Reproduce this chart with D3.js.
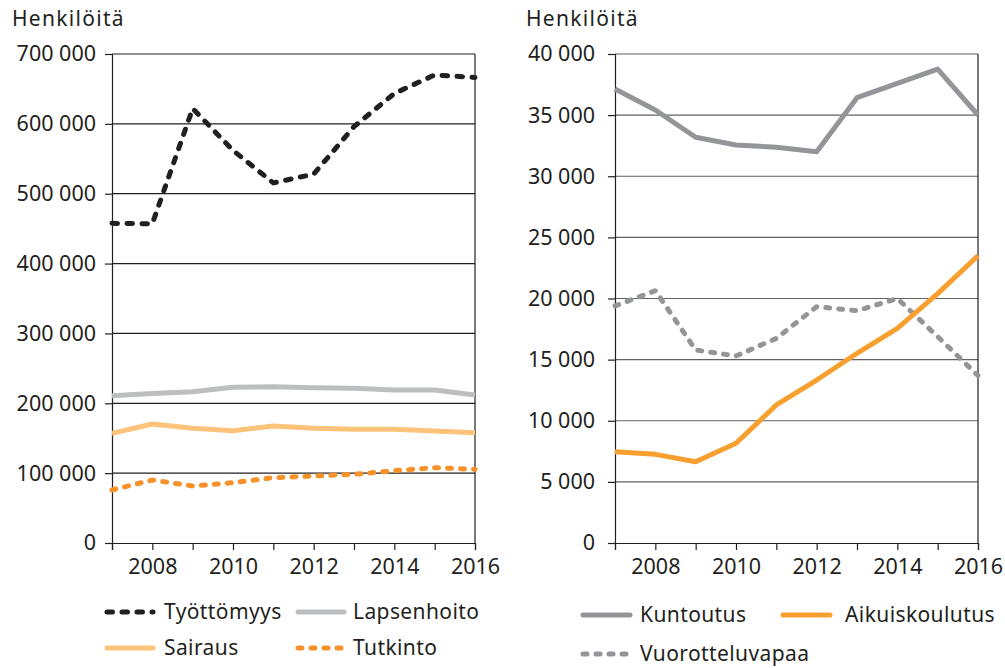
<!DOCTYPE html>
<html>
<head>
<meta charset="utf-8">
<script src="https://cdn.jsdelivr.net/npm/d3@7"></script>
<style>
  body { margin: 0; background: #fff; }
  svg text { font-family: "Noto Sans", sans-serif; fill: #231f20; }
</style>
</head>
<body>
<div id="chart"></div>
<script>
// years on the x axis (both panels)
const years = [2007, 2008, 2009, 2010, 2011, 2012, 2013, 2014, 2015, 2016];
const yearLabels = [2008, 2010, 2012, 2014, 2016];

// left panel
const tyottomyys = [457600, 457000, 622000, 562000, 515500, 528000, 596000, 643500, 670000, 666500];
const lapsenhoito = [210700, 214000, 216600, 222900, 223800, 222300, 221400, 219000, 219000, 211800];
const sairaus = [157000, 170300, 164200, 160800, 167500, 164200, 162700, 162700, 160300, 157900];
const tutkinto = [75900, 90200, 81600, 86300, 93500, 95900, 98300, 103500, 107800, 105500];
const leftTicks = [0, 100000, 200000, 300000, 400000, 500000, 600000, 700000];

// right panel
const kuntoutus = [37140, 35420, 33190, 32560, 32370, 32010, 36430, 37600, 38770, 35010];
const aikuiskoulutus = [7470, 7250, 6650, 8160, 11290, 13330, 15520, 17560, 20400, 23500];
const vuorotteluvapaa = [19390, 20640, 15790, 15300, 16740, 19330, 19000, 20000, 16880, 13700];
const rightTicks = [0, 5000, 10000, 15000, 20000, 25000, 30000, 35000, 40000];

const fi = d3.formatLocale({decimal: ",", thousands: " ", grouping: [3], currency: ["", "€"]});
const fmt = fi.format(",d");

const svg = d3.select("#chart").append("svg")
    .attr("width", 1005)
    .attr("height", 668);

function drawPanel(cfg) {
  const g = svg.append("g");

  const x = d3.scaleLinear().domain([2007, 2016]).range([cfg.left, cfg.right]);
  const y = d3.scaleLinear().domain([0, cfg.max]).range([543, 54]);

  // grid
  g.append("g").selectAll("line")
    .data(cfg.ticks.slice(1))
    .join("line")
      .attr("x1", cfg.left).attr("x2", cfg.right)
      .attr("y1", d => y(d)).attr("y2", d => y(d))
      .attr("stroke", cfg.gridColor)
      .attr("stroke-width", 1.2);

  // right frame
  g.append("line")
    .attr("x1", cfg.right).attr("x2", cfg.right)
    .attr("y1", y(cfg.max)).attr("y2", y(0))
    .attr("stroke", "#231f20").attr("stroke-width", 1.2);

  const yAxis = g.append("g")
    .attr("transform", `translate(${cfg.left},0)`)
    .call(d3.axisLeft(y).tickValues(cfg.ticks).tickFormat(fmt).tickSize(7).tickPadding(cfg.pad));
  yAxis.selectAll("text").style("font-size", "21.5px");

  const xAxis = g.append("g")
    .attr("transform", "translate(0,543)")
    .call(d3.axisBottom(x).tickValues(years)
      .tickFormat(d => yearLabels.includes(d) ? d : "")
      .tickSize(7).tickPadding(9));
  xAxis.selectAll("text").style("font-size", "21.5px");

  g.selectAll(".domain, .tick line").attr("stroke", "#231f20").attr("stroke-width", 1.2);

  g.append("text")
    .attr("x", cfg.titleX).attr("y", 26)
    .style("font-size", "21px")
    .style("letter-spacing", "1.3px")
    .text("Henkilöitä");

  const line = d3.line()
    .x((d, i) => x(years[i]))
    .y(d => y(d));

  cfg.series.forEach(s => {
    g.append("path")
      .datum(s.values)
      .attr("fill", "none")
      .attr("stroke", s.color)
      .attr("stroke-width", 5)
      .attr("stroke-linejoin", "round")
      .attr("stroke-linecap", s.dash ? "round" : "butt")
      .attr("stroke-dasharray", s.dash || null)
      .attr("d", line);
  });

  // legend
  cfg.series.forEach(s => {
    const lg = g.append("g").attr("transform", `translate(${s.lx},${s.ly})`);
    lg.append("line")
      .attr("x1", 0).attr("x2", cfg.sampleW)
      .attr("stroke", s.color)
      .attr("stroke-width", 5)
      .attr("stroke-linecap", "round")
      .attr("stroke-dasharray", s.dash || null);
    lg.append("text")
      .attr("x", s.tx)
      .attr("dy", "0.35em")
      .style("font-size", "21px")
      .style("letter-spacing", "0.4px")
      .text(s.name);
  });
}

drawPanel({
  left: 112, right: 475, max: 700000, ticks: leftTicks, pad: 9,
  gridColor: "#231f20", titleX: 12, sampleW: 46,
  series: [
    {name: "Lapsenhoito", values: lapsenhoito, color: "#bcbec0", lx: 298, ly: 612, tx: 55},
    {name: "Sairaus", values: sairaus, color: "#fdc37a", lx: 107, ly: 648, tx: 57},
    {name: "Tutkinto", values: tutkinto, color: "#f7922a", dash: "4,9", lx: 298, ly: 648, tx: 55},
    {name: "Työttömyys", values: tyottomyys, color: "#231f20", dash: "5.5,9.5", lx: 107, ly: 612, tx: 57}
  ]
});

drawPanel({
  left: 615, right: 978, max: 40000, ticks: rightTicks, pad: 13,
  gridColor: "#5f6062", titleX: 526, sampleW: 47,
  series: [
    {name: "Kuntoutus", values: kuntoutus, color: "#939598", lx: 583, ly: 615, tx: 57},
    {name: "Vuorotteluvapaa", values: vuorotteluvapaa, color: "#939598", dash: "4,9", lx: 583, ly: 654, tx: 57},
    {name: "Aikuiskoulutus", values: aikuiskoulutus, color: "#f7a030", lx: 783, ly: 615, tx: 62}
  ]
});
</script>
</body>
</html>
